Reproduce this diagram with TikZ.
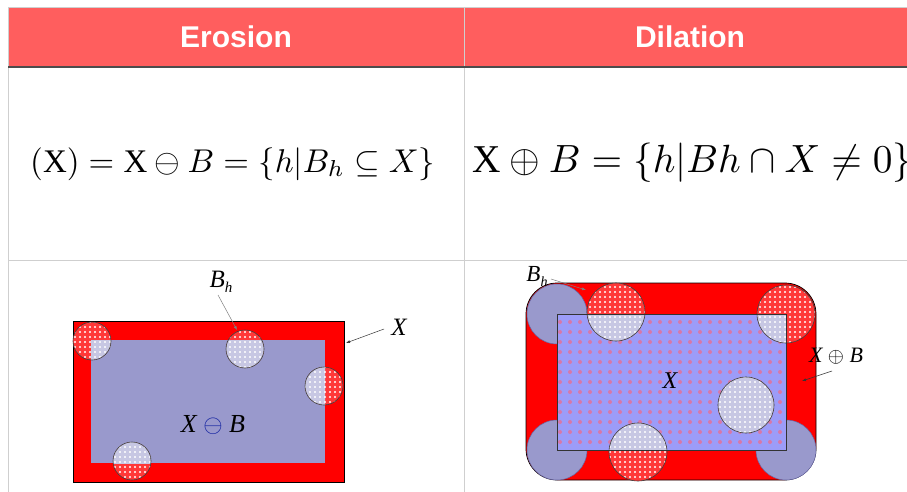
\documentclass[tikz,border=0pt]{standalone}
\usepackage{fontspec}
\setmainfont{Liberation Serif}
\newfontfamily\hdrfont{Liberation Sans}
\usetikzlibrary{patterns.meta,arrows.meta}
\definecolor{hdrred}{HTML}{FF5E5E}
\definecolor{lav}{HTML}{9999CC}
\definecolor{lavblue}{HTML}{9C9CF8}
\definecolor{gridgray}{HTML}{CFCFCF}
\definecolor{dotred}{HTML}{D878A8}
\definecolor{opblue}{HTML}{1020A0}
\begin{document}
\begin{tikzpicture}[x=1pt,y=-1pt,
  gridline/.style={draw=gridgray,line width=0.8pt},
  hdrtext/.style={text=white,font=\hdrfont\bfseries\fontsize{30}{30}\selectfont},
  redpat/.style={fill=red!78!white,postaction={pattern={Dots[distance=5pt,radius=1.1pt]},pattern color=white}},
  lavpat/.style={fill=lav!55!white,postaction={pattern={Dots[distance=5pt,radius=1.1pt]},pattern color=white}},
  circ/.style={draw=black!75,line width=0.6pt},
  lbl/.style={font=\itshape\fontsize{25}{25}\selectfont,inner sep=0pt},
  ptr/.style={draw=black!80,line width=0.5pt,-{Latex[length=4pt,width=3pt]}}]
\useasboundingbox (0,0) rectangle (907,492);
\fill[white] (0,0) rectangle (907,492);

% ---------- table ----------
\fill[hdrred] (8,7) rectangle (907,67);
\draw[gridline] (8,7) -- (907,7);
\draw[gridline] (8,7) -- (8,492);
\draw[gridline] (464,7) -- (464,492);
\draw[gridline] (8,260) -- (907,260);
\draw[draw=black!70,line width=2pt] (8,67) -- (907,67);
\node[hdrtext] (herosion) at (236,37) {Erosion};
\node[hdrtext] (hdilation) at (690,37) {Dilation};

\node[anchor=base west,inner sep=0pt] (ferosion) at (30,172)
  {\resizebox{405pt}{!}{$(\mathrm{X}) = \mathrm{X} \ominus B = \{h|B_h \subseteq X\}$}};
\node[anchor=base west,inner sep=0pt] (fdilation) at (472,172)
  {\resizebox{440pt}{!}{$\mathrm{X} \oplus B = \{h|Bh \cap X \neq 0\}$}};

% ---------- erosion picture ----------
\path[fill=red,draw=black,line width=0.8pt] (73,321) rectangle (344,482);
\fill[lav] (91,340) rectangle (325,463);
\coordinate (e1) at (92,341);
\coordinate (e2) at (245,349);
\coordinate (e3) at (324,386);
\coordinate (e4) at (132,461);
\foreach \c in {e1,e2,e3,e4}{
  \path[redpat] (\c) circle (19pt);
  \begin{scope}
    \clip (91,340) rectangle (325,463);
    \path[lavpat] (\c) circle (19pt);
  \end{scope}
  \draw[circ] (\c) circle (19pt);
}
\node[lbl] (ebh) at (221,282) {B\raisebox{-5pt}{\fontsize{15}{15}\selectfont h}};
\coordinate (ebhtip) at (237,330);
\draw[ptr,draw=black!50] (218,295) -- (ebhtip);
\node[lbl] (ex) at (399,327) {X};
\coordinate (extip) at (346,343);
\draw[ptr] (384,329) -- (extip);
\node[lbl,font=\itshape\fontsize{26}{26}\selectfont] (eres) at (213,425)
  {X \textcolor{opblue}{$\ominus$} B};

% ---------- dilation picture ----------
\path[fill=red,draw=black,line width=0.7pt,rounded corners=31pt] (526,283) rectangle (816,480);
\coordinate (tl) at (557,314);
\coordinate (bl) at (557,450);
\coordinate (br) at (786,450);
\coordinate (tr) at (786,314);
\foreach \c in {tl,bl,br}{
  \path[fill=lav,draw=blue!40!black!60,line width=0.5pt] (\c) circle (30pt);
}
\path[fill=lavblue,postaction={pattern={Dots[distance=10pt,radius=2pt]},pattern color=dotred}]
  (557,314) rectangle (786,450);
\coordinate (d1) at (616,312);
\coordinate (d2) at (638,452);
\coordinate (d3) at (746,405);
\foreach \c/\r in {tr/29pt,d1/29pt,d2/29pt,d3/28pt}{
  \path[redpat] (\c) circle (\r);
  \begin{scope}
    \clip (557,314) rectangle (786,450);
    \path[lavpat] (\c) circle (\r);
  \end{scope}
  \draw[circ] (\c) circle (\r);
}
\draw[black!80,line width=0.8pt] (557,314) rectangle (786,450);
\node[lbl,font=\itshape\fontsize{23}{23}\selectfont] (dbh) at (537,276) {B\raisebox{-5pt}{\fontsize{14}{14}\selectfont h}};
\coordinate (dbhtip) at (586,290);
\draw[ptr,draw=black!50] (551,279) -- (dbhtip);
\node[lbl,font=\itshape\fontsize{24}{24}\selectfont] (dx) at (670,381) {X};
\node[lbl,font=\itshape\fontsize{22}{22}\selectfont] (dres) at (836,356) {X $\oplus$ B};
\coordinate (drestip) at (802,381);
\draw[ptr] (832,371) -- (drestip);
\end{tikzpicture}
\end{document}
